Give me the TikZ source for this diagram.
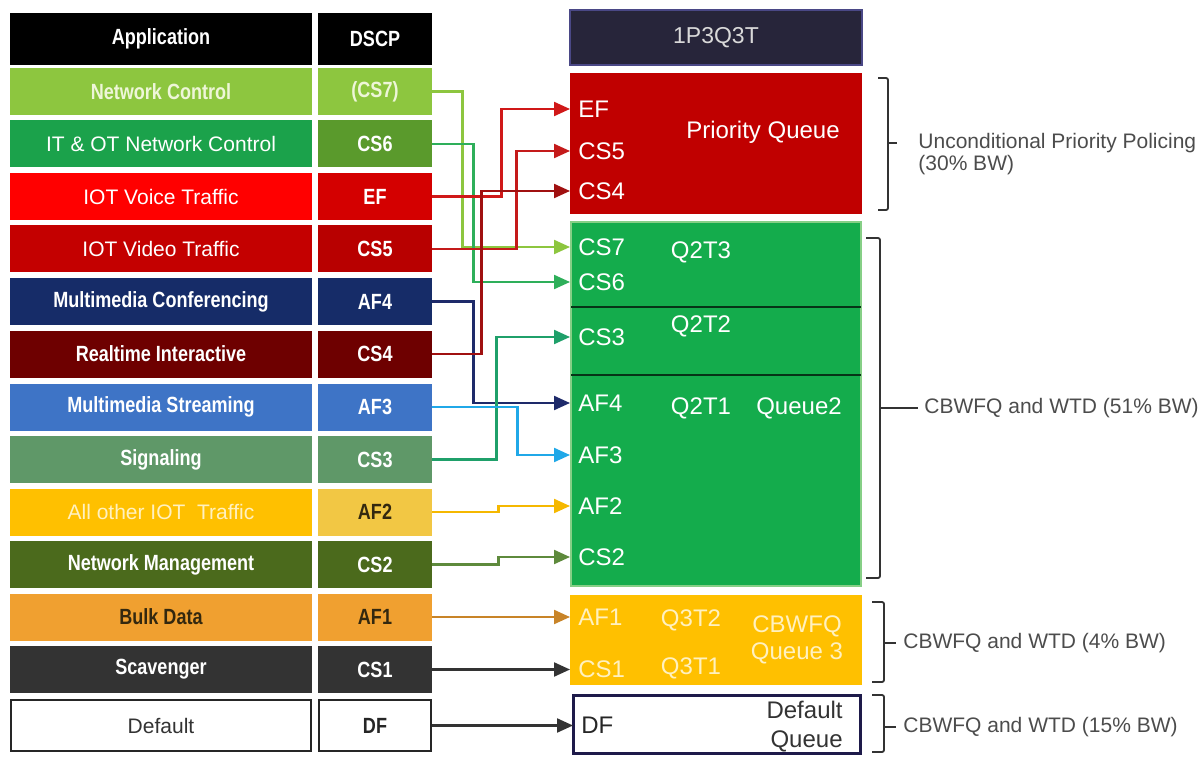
\documentclass[tikz,border=0pt]{standalone}
\usepackage{fontspec}
\setmainfont{Liberation Sans}
\newfontfamily\narrowfont[FakeStretch=0.82]{Liberation Sans}
\usetikzlibrary{arrows.meta}
% cell colours
\definecolor{ncgreen}{HTML}{8DC63F}
\definecolor{ncpale}{HTML}{EEF6D8}
\definecolor{itgreen}{HTML}{1BA24B}
\definecolor{cssixgreen}{HTML}{5A9A2C}
\definecolor{voicered}{HTML}{FF0000}
\definecolor{efred}{HTML}{D40000}
\definecolor{videored}{HTML}{C40000}
\definecolor{csfivered}{HTML}{B80000}
\definecolor{confnavy}{HTML}{162C68}
\definecolor{rtmaroon}{HTML}{6E0000}
\definecolor{streamblue}{HTML}{3E74C6}
\definecolor{sigteal}{HTML}{5F9868}
\definecolor{iotgold}{HTML}{FFC000}
\definecolor{iotpale}{HTML}{FFF1C0}
\definecolor{aftwogold}{HTML}{F2C744}
\definecolor{mgmtolive}{HTML}{4B6A1C}
\definecolor{bulkorange}{HTML}{F0A030}
\definecolor{darktext}{HTML}{33280F}
\definecolor{scavgray}{HTML}{333333}
% queue colours
\definecolor{hdrnavy}{HTML}{27253A}
\definecolor{hdredge}{HTML}{4A4886}
\definecolor{pqred}{HTML}{C00000}
\definecolor{qgreen}{HTML}{14AC4C}
\definecolor{qgreenedge}{HTML}{86CF86}
\definecolor{qgold}{HTML}{FFC000}
\definecolor{dfnavy}{HTML}{1E1A4A}
% connector colours
\definecolor{lcsseven}{HTML}{8DC63F}
\definecolor{lcssix}{HTML}{2EAF5A}
\definecolor{lef}{HTML}{D01818}
\definecolor{lcsfive}{HTML}{C41A1A}
\definecolor{lcsfour}{HTML}{A01010}
\definecolor{lafour}{HTML}{1E2A6A}
\definecolor{lcsthree}{HTML}{1FA06A}
\definecolor{lafthree}{HTML}{20A8E8}
\definecolor{laftwo}{HTML}{F5B800}
\definecolor{lcstwo}{HTML}{5E8A3C}
\definecolor{lafone}{HTML}{C88428}
\begin{document}
\begin{tikzpicture}[x=0.5pt, y=-0.5pt,
  cell/.style={minimum height=23.5pt, inner sep=1pt, text=white},
  appcell/.style={cell, minimum width=151pt},
  dscpcell/.style={cell, minimum width=57pt},
  boldtxt/.style={font=\narrowfont\bfseries\fontsize{11}{13}\selectfont},
  plaintxt/.style={font=\fontsize{10.5}{12.5}\selectfont},
  qlabel/.style={anchor=west, inner sep=4pt, text=white, font=\fontsize{12}{14}\selectfont},
  qtext/.style={inner sep=1pt, text=white, font=\fontsize{12}{14}\selectfont},
  link/.style={line width=1.1pt, -{Triangle[length=8pt, width=7pt]}},
  brace/.style={line width=0.9pt, draw=black!80, rounded corners=1pt},
  bwtext/.style={anchor=west, inner sep=3pt, align=left, text=black!70, font=\fontsize{10.5}{11}\selectfont}]
  \useasboundingbox (0,0) rectangle (1204,759);
  % Left table
  \node[appcell, fill=black, minimum height=26pt, boldtxt] (apphdr) at (161,39) {Application};
  \node[dscpcell, fill=black, minimum height=26pt, boldtxt] (dscphdr) at (375,39) {DSCP};
  \node[appcell, fill=ncgreen, boldtxt, text=ncpale] (app1) at (161,91.5) {Network Control};
  \node[dscpcell, fill=ncgreen, boldtxt, text=ncpale] (cs7) at (375,91.5) {(CS7)};
  \node[appcell, fill=itgreen, plaintxt] (app2) at (161,144) {IT \& OT Network Control};
  \node[dscpcell, fill=cssixgreen, boldtxt] (cs6) at (375,144) {CS6};
  \node[appcell, fill=voicered, plaintxt] (app3) at (161,196.5) {IOT Voice Traffic};
  \node[dscpcell, fill=efred, boldtxt] (ef) at (375,196.5) {EF};
  \node[appcell, fill=videored, plaintxt] (app4) at (161,249) {IOT Video Traffic};
  \node[dscpcell, fill=csfivered, boldtxt] (cs5) at (375,249) {CS5};
  \node[appcell, fill=confnavy, boldtxt] (app5) at (161,301.5) {Multimedia Conferencing};
  \node[dscpcell, fill=confnavy, boldtxt] (af4) at (375,301.5) {AF4};
  \node[appcell, fill=rtmaroon, boldtxt] (app6) at (161,354) {Realtime Interactive};
  \node[dscpcell, fill=rtmaroon, boldtxt] (cs4) at (375,354) {CS4};
  \node[appcell, fill=streamblue, boldtxt] (app7) at (161,407) {Multimedia Streaming};
  \node[dscpcell, fill=streamblue, boldtxt] (af3) at (375,407) {AF3};
  \node[appcell, fill=sigteal, boldtxt] (app8) at (161,459.5) {Signaling};
  \node[dscpcell, fill=sigteal, boldtxt] (cs3) at (375,459.5) {CS3};
  \node[appcell, fill=iotgold, plaintxt, text=iotpale] (app9) at (161,512) {All other IOT\ \ Traffic};
  \node[dscpcell, fill=aftwogold, boldtxt, text=darktext] (af2) at (375,512) {AF2};
  \node[appcell, fill=mgmtolive, boldtxt] (app10) at (161,564.5) {Network Management};
  \node[dscpcell, fill=mgmtolive, boldtxt] (cs2) at (375,564.5) {CS2};
  \node[appcell, fill=bulkorange, boldtxt, text=darktext] (app11) at (161,617) {Bulk Data};
  \node[dscpcell, fill=bulkorange, boldtxt, text=darktext] (af1) at (375,617) {AF1};
  \node[appcell, fill=scavgray, boldtxt] (app12) at (161,669.5) {Scavenger};
  \node[dscpcell, fill=scavgray, boldtxt] (cs1) at (375,669.5) {CS1};
  \node[appcell, draw=black!85, line width=1pt, fill=white, minimum width=150pt, minimum height=25.5pt,
        plaintxt, text=black!80] (app13) at (161,725.5) {Default};
  \node[dscpcell, draw=black!85, line width=1pt, fill=white, minimum width=56pt, minimum height=25.5pt,
        boldtxt, text=black!85] (df) at (375,725.5) {DF};
  % Queue boxes
  \node[draw=hdredge, line width=0.8pt, fill=hdrnavy, minimum width=146pt, minimum height=27.5pt,
        text=black!15, font=\fontsize{11.5}{13}\selectfont] (qhdr) at (716,37.5) {1P3Q3T};
  \node[fill=pqred, minimum width=146pt, minimum height=70.5pt] (pq) at (716,143.5) {};
  \node[fill=qgreen, draw=qgreenedge, line width=1pt, minimum width=145pt, minimum height=182pt] (q2) at (716,404) {};
  \draw[black!70!qgreen, line width=0.6pt] (571,307) -- (861,307);
  \draw[black!70!qgreen, line width=0.6pt] (571,375) -- (861,375);
  \node[fill=qgold, minimum width=146pt, minimum height=45pt] (q3) at (716,640) {};
  \node[draw=dfnavy, line width=1.5pt, fill=white, minimum width=143.5pt, minimum height=29pt] (dq) at (717,724) {};
  % Queue texts
  \node[qtext] (pqname) at (763,132) {Priority Queue};
  \node[qtext] (qtthree) at (701,252) {Q2T3};
  \node[qtext] (qttwo) at (701,326) {Q2T2};
  \node[qtext] (qtone) at (701,408) {Q2T1};
  \node[qtext] (qtwoname) at (799,408) {Queue2};
  \node[qtext, text=iotpale] (qthreetwo) at (691,620) {Q3T2};
  \node[qtext, text=iotpale] (qthreeone) at (691,668) {Q3T1};
  \node[qtext, text=iotpale, align=center, font=\fontsize{12}{13.5}\selectfont] (qthreename) at (797,640) {CBWFQ\\Queue 3};
  \node[qtext, text=black!80, align=right, anchor=east, font=\fontsize{12}{14.5}\selectfont] (dqname) at (845,727) {Default\\Queue};
  % Queue entries (connector targets)
  \node[qlabel] (qef) at (570,109) {EF};
  \node[qlabel] (qcs5) at (570,151) {CS5};
  \node[qlabel] (qcs4) at (570,191) {CS4};
  \node[qlabel] (qcs7) at (570,247) {CS7};
  \node[qlabel] (qcs6) at (570,282) {CS6};
  \node[qlabel] (qcs3) at (570,337) {CS3};
  \node[qlabel] (qaf4) at (570,403) {AF4};
  \node[qlabel] (qaf3) at (570,455) {AF3};
  \node[qlabel] (qaf2) at (570,506) {AF2};
  \node[qlabel] (qcs2) at (570,557) {CS2};
  \node[qlabel, text=iotpale] (qaf1) at (570,617) {AF1};
  \node[qlabel, text=iotpale] (qcs1) at (570,669.5) {CS1};
  \node[qlabel, text=black!85] (qdf) at (573,725.5) {DF};
  % Connectors
  \draw[link, lcsseven] (cs7.east) -- ++(30,0) |- (qcs7.west);
  \draw[link, lcssix] (cs6.east) -- ++(41,0) |- (qcs6.west);
  \draw[link, lafour] (af4.east) -- ++(41,0) |- (qaf4.west);
  \draw[link, lcsthree] (cs3.east) -- ++(64,0) |- (qcs3.west);
  \draw[link, lafthree] (af3.east) -- ++(85,0) |- (qaf3.west);
  \draw[link, lef] (ef.east) -- ++(69,0) |- (qef.west);
  \draw[link, lcsfive] (cs5.east) -- ++(84,0) |- (qcs5.west);
  \draw[link, lcsfour] (cs4.east) -- ++(49,0) |- (qcs4.west);
  \draw[link, laftwo] (af2.east) -- ++(66,0) |- (qaf2.west);
  \draw[link, lcstwo] (cs2.east) -- ++(66,0) |- (qcs2.west);
  \draw[link, lafone] (af1.east) -- (qaf1.west);
  \draw[link, scavgray] (cs1.east) -- (qcs1.west);
  \draw[link, scavgray] (df.east) -- (qdf.west);
  % Brackets
  \draw[brace] (878,78) -- (888,78) -- (888,210) -- (878,210);
  \draw[brace] (888,143) -- (897,143);
  \node[bwtext] (bwpq) at (912,154) {Unconditional Priority Policing\\(30\% BW)};
  \draw[brace] (866,238) -- (880,238) -- (880,578) -- (866,578);
  \draw[brace] (880,408) -- (918,408);
  \node[bwtext] (bwqtwo) at (918,408) {CBWFQ and WTD (51\% BW)};
  \draw[brace] (872,602) -- (884,602) -- (884,682) -- (872,682);
  \draw[brace] (884,643) -- (896,643);
  \node[bwtext] (bwqthree) at (897,643) {CBWFQ and WTD (4\% BW)};
  \draw[brace] (872,695) -- (884,695) -- (884,752) -- (872,752);
  \draw[brace] (884,727) -- (896,727);
  \node[bwtext] (bwdq) at (897,727) {CBWFQ and WTD (15\% BW)};
\end{tikzpicture}
\end{document}
